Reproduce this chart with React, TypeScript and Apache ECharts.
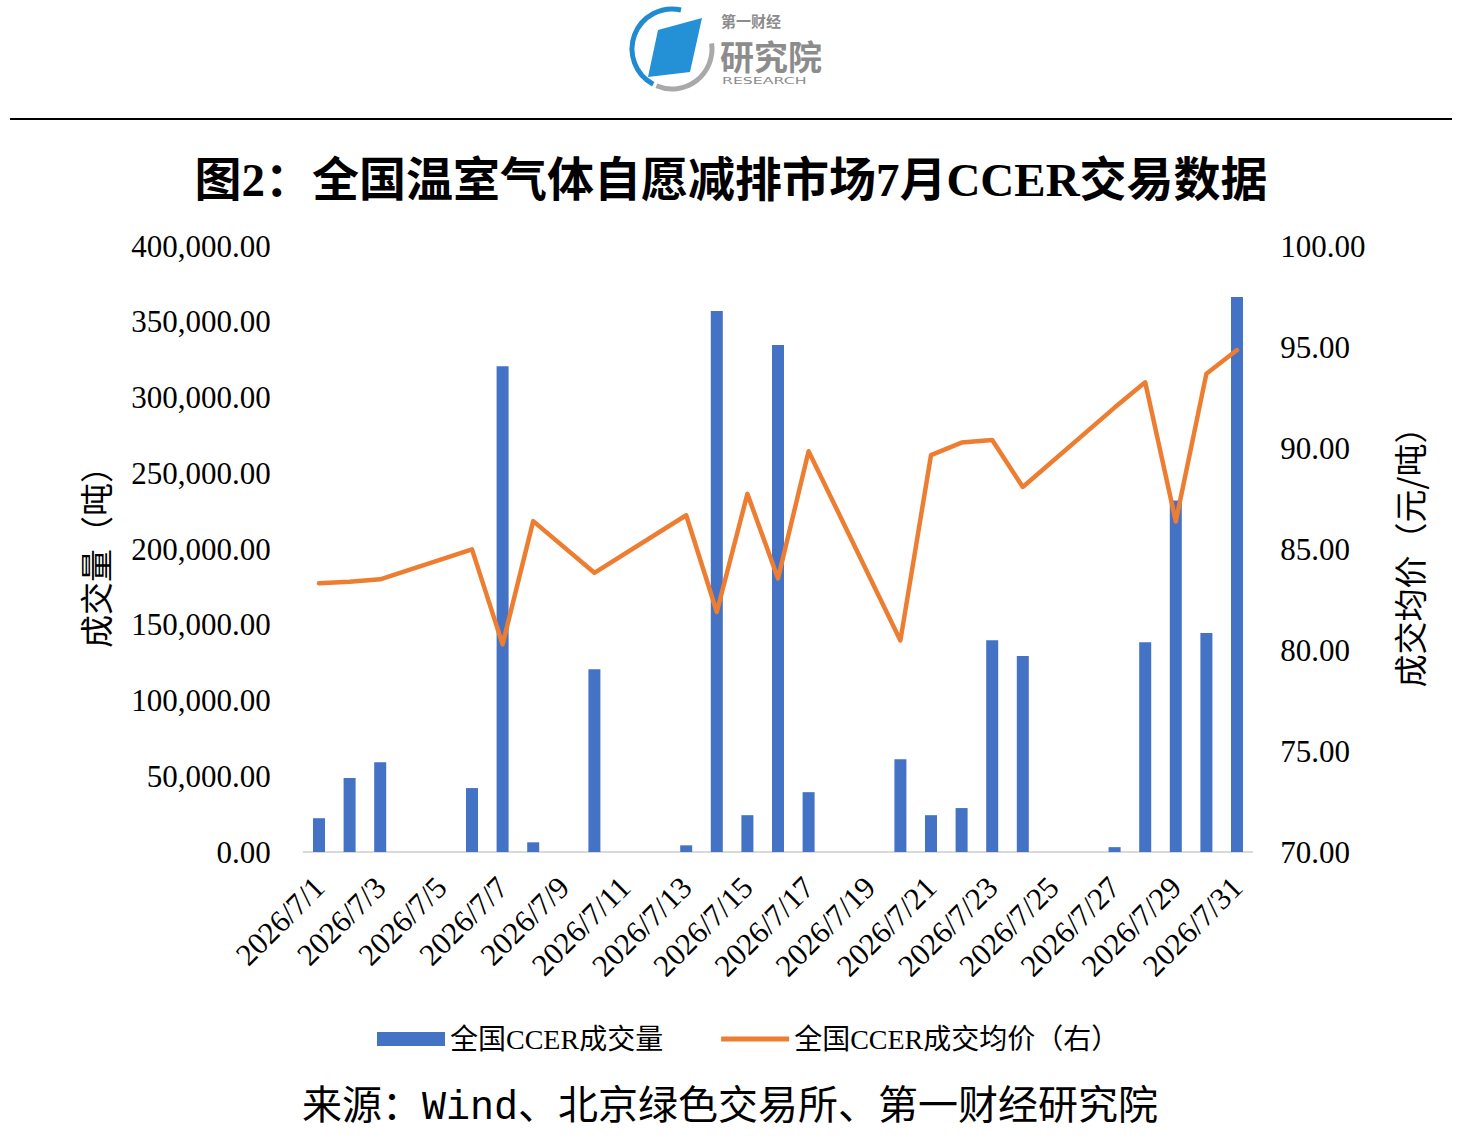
import React, { useEffect, useRef } from "react";
import * as echarts from "echarts";

const dates = [
  "2026/7/1", "2026/7/2", "2026/7/3", "2026/7/4", "2026/7/5", "2026/7/6", "2026/7/7", "2026/7/8",
  "2026/7/9", "2026/7/10", "2026/7/11", "2026/7/12", "2026/7/13", "2026/7/14", "2026/7/15", "2026/7/16",
  "2026/7/17", "2026/7/18", "2026/7/19", "2026/7/20", "2026/7/21", "2026/7/22", "2026/7/23", "2026/7/24",
  "2026/7/25", "2026/7/26", "2026/7/27", "2026/7/28", "2026/7/29", "2026/7/30", "2026/7/31",
];

const volumes = [
  22300, 48900, 59300, null, null, 42200, 320600, 6400,
  null, 120700, null, null, 4400, 357100, 24300, 334600,
  39500, null, null, 61300, 24300, 29000, 139800, 129400,
  null, null, 3200, 138500, 232000, 144500, 366400,
];

const prices = [
  83.3, 83.38, 83.5, null, null, 84.98, 80.28, 86.38,
  null, 83.82, null, null, 86.67, 81.88, 87.73, 83.54,
  89.84, null, null, 80.47, 89.65, 90.27, 90.4, 88.07,
  null, null, 92.0, 93.25, 86.36, 93.68, 94.85,
];

const volumeName = "全国CCER成交量";
const priceName = "全国CCER成交均价（右）";
const titleText = "图2：全国温室气体自愿减排市场7月CCER交易数据";
const sourceText = "来源：Wind、北京绿色交易所、第一财经研究院";

const fmtThousands = (v: number) => {
  const s = Number(v).toFixed(2);
  const [i, d] = s.split(".");
  return i.replace(/\B(?=(\d{3})+(?!\d))/g, ",") + "." + d;
};

const SERIF = "'Liberation Serif', 'Noto Sans CJK SC', serif";
const CJK = "'Noto Sans CJK SC', sans-serif";

export default function App() {
  const ref = useRef<HTMLDivElement>(null);
  useEffect(() => {
    if (!ref.current) return;
    const chart = echarts.init(ref.current, null, { renderer: "svg" });
    chart.setOption({
      animation: false,
      backgroundColor: "#ffffff",
      grid: { left: 303.7, right: 209.7, top: 246, bottom: 286, containLabel: false },
      legend: {
        left: 372,
        top: 1020,
        itemGap: 58,
        itemWidth: 68,
        itemHeight: 14,
        textStyle: { fontSize: 28, fontFamily: SERIF, color: "#000" },
        data: [
          { name: volumeName, icon: "rect" },
          { name: priceName, icon: "path://M0,0L0,0M0,4.5L70,4.5L70,9.5L0,9.5ZM70,14L70,14" },
        ],
      },
      xAxis: {
        type: "category",
        data: dates,
        axisTick: { show: false },
        axisLine: { lineStyle: { color: "#D9D9D9", width: 2 } },
        axisLabel: {
          interval: 1,
          rotate: 45,
          margin: 30,
          fontSize: 31,
          fontFamily: SERIF,
          color: "#000",
        },
      },
      yAxis: [
        {
          type: "value",
          min: 0,
          max: 400000,
          interval: 50000,
          splitLine: { show: false },
          axisLine: { show: false },
          axisTick: { show: false },
          axisLabel: { formatter: fmtThousands, fontSize: 31, fontFamily: SERIF, color: "#000", margin: 33 },
          name: "成交量（吨）",
          nameLocation: "middle",
          nameGap: 192,
          nameRotate: 90,
          nameTextStyle: { fontSize: 33, fontFamily: CJK, color: "#000" },
        },
        {
          type: "value",
          min: 70,
          max: 100,
          interval: 5,
          position: "right",
          splitLine: { show: false },
          axisLine: { show: false },
          axisTick: { show: false },
          axisLabel: {
            formatter: (v: number) => v.toFixed(2),
            fontSize: 31,
            fontFamily: SERIF,
            color: "#000",
            margin: 28,
          },
          name: "成交均价（元/吨）",
          nameLocation: "middle",
          nameGap: 140,
          nameRotate: 90,
          nameTextStyle: { fontSize: 33, fontFamily: CJK, color: "#000" },
        },
      ],
      series: [
        {
          name: volumeName,
          type: "bar",
          yAxisIndex: 0,
          data: volumes,
          barWidth: 12,
          itemStyle: { color: "#4472C4" },
        },
        {
          name: priceName,
          type: "line",
          yAxisIndex: 1,
          data: prices,
          connectNulls: true,
          symbol: "none",
          lineStyle: { color: "#ED7D31", width: 4.5, cap: "round", join: "round" },
          itemStyle: { color: "#ED7D31" },
        },
      ],
      graphic: [
        // header logo
        {
          type: "arc",
          shape: { cx: 672, cy: 49, r: 40, startAngle: (118 * Math.PI) / 180, endAngle: (283 * Math.PI) / 180, clockwise: true },
          style: { stroke: "#1F8BD2", lineWidth: 5, fill: "none" },
        },
        {
          type: "arc",
          shape: { cx: 672, cy: 49, r: 40, startAngle: (-8 * Math.PI) / 180, endAngle: (113 * Math.PI) / 180, clockwise: true },
          style: { stroke: "#A9A9A9", lineWidth: 5, fill: "none" },
        },
        {
          type: "polygon",
          shape: { points: [[658, 30], [702, 18], [690, 72], [648, 77]] },
          style: { fill: "#2490D6" },
        },
        {
          type: "text",
          x: 721,
          y: 20,
          style: { text: "第一财经", fontSize: 15, fontWeight: "bold", fontFamily: CJK, fill: "#8C8C8C", textVerticalAlign: "middle" },
        },
        {
          type: "text",
          x: 720,
          y: 55,
          style: { text: "研究院", fontSize: 34, fontWeight: "bold", fontFamily: CJK, fill: "#8C8C8C", textVerticalAlign: "middle" },
        },
        {
          type: "text",
          x: 722,
          y: 81,
          scaleX: 1.75,
          style: { text: "RESEARCH", fontSize: 9, fontFamily: "'DejaVu Sans', sans-serif", fill: "#8C8C8C", textVerticalAlign: "middle" },
        },
        {
          type: "line",
          shape: { x1: 10, y1: 119, x2: 1452, y2: 119 },
          style: { stroke: "#000", lineWidth: 2 },
        },
        {
          type: "text",
          x: 731,
          y: 180,
          style: {
            text: titleText,
            fontSize: 47,
            fontWeight: "bold",
            fontFamily: SERIF,
            fill: "#000",
            textAlign: "center",
            textVerticalAlign: "middle",
          },
        },
        {
          type: "text",
          x: 730,
          y: 1108,
          style: {
            text: sourceText,
            fontSize: 40,
            fontFamily: "'Liberation Mono', 'Noto Sans CJK SC', monospace",
            fill: "#000",
            textAlign: "center",
            textVerticalAlign: "middle",
          },
        },
      ],
    });
    return () => chart.dispose();
  }, []);
  return (
    <div
      ref={ref}
      style={{ position: "absolute", left: 0, top: 0, width: 1462, height: 1138, background: "#fff" }}
    />
  );
}
